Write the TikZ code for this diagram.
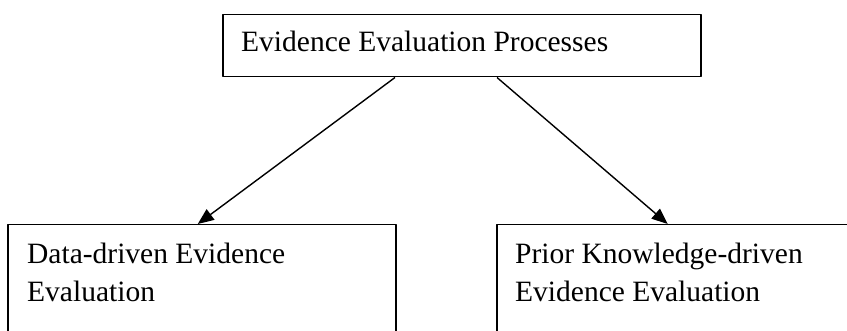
\documentclass[tikz,border=0pt]{standalone}
\usepackage{fontspec}
\setmainfont{Liberation Serif}
\usetikzlibrary{arrows.meta}
\tikzset{
  box/.style={draw, line width=1.5pt, rectangle, inner sep=0pt},
  boxtext/.style={anchor=base west, inner sep=0pt, align=left},
  link/.style={-{Triangle[length=16pt,width=13pt]}, line width=1.4pt}
}
\begin{document}
\begin{tikzpicture}[x=1pt, y=-1pt, line join=round, font=\fontsize{29.5}{38.5}\selectfont]
\useasboundingbox (0,0) rectangle (847,331);
% Hộp trên cùng
\node[box, minimum width=478pt, minimum height=62pt, anchor=north west] (proc) at (222,14) {};
\node[boxtext] (proctext) at (241,52) {Evidence Evaluation Processes};
% Hai hộp bên dưới (dòng cuối đặt theo đường cơ sở)
\node[box, minimum width=388pt, minimum height=140pt, anchor=north west] (data) at (7,224) {};
\node[boxtext] (datatext) at (27,302) {Data-driven Evidence\\Evaluation};
\node[box, minimum width=354pt, minimum height=140pt, anchor=north west] (prior) at (496,224) {};
\node[boxtext] (priortext) at (515,302) {Prior Knowledge-driven\\Evidence Evaluation};
% Các mũi tên
\draw[link] ([xshift=173pt]proc.south west) -- ([xshift=-4pt]data.north);
\draw[link] ([xshift=275pt]proc.south west) -- ([xshift=-6pt]prior.north);
\end{tikzpicture}
\end{document}
